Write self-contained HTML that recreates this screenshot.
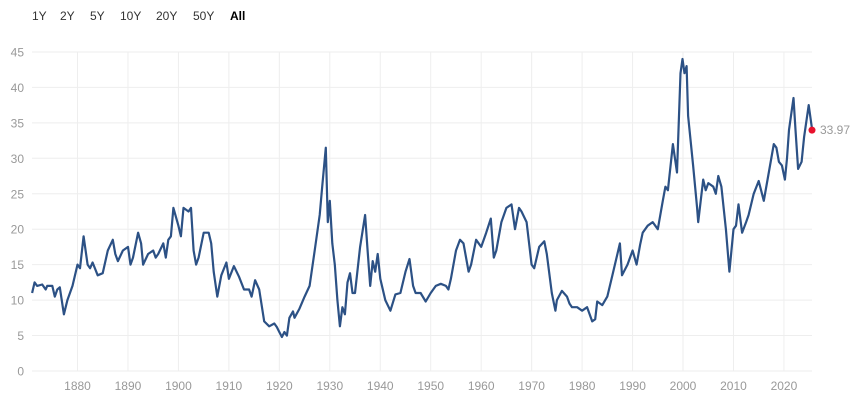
<!DOCTYPE html>
<html><head><meta charset="utf-8"><style>
body{margin:0;background:#fff;font-family:"Liberation Sans",sans-serif;}
.btn{position:absolute;top:9px;font-size:12px;color:#333;}
</style></head><body>
<div style="position:relative;width:857px;height:413px;overflow:hidden">
<span class="btn" style="left:32px">1Y</span>
<span class="btn" style="left:60px">2Y</span>
<span class="btn" style="left:90px">5Y</span>
<span class="btn" style="left:120px">10Y</span>
<span class="btn" style="left:156px">20Y</span>
<span class="btn" style="left:193px">50Y</span>
<span class="btn" style="left:230px;font-weight:bold;color:#000">All</span>
<svg id="s" width="857" height="413" style="position:absolute;left:0;top:0" font-family="Liberation Sans, sans-serif"></svg>
</div>
<script>
const s=document.getElementById('s');
const X=y=>77.5+(y-1880)*5.046, Y=v=>371-v*7.09;
let h='';
for(let v=0;v<=45;v+=5){h+=`<line x1="32" x2="812" y1="${Y(v)}" y2="${Y(v)}" stroke="#eee" stroke-width="1"/><text x="24" y="${Y(v)+4.5}" text-anchor="end" font-size="12" fill="#999">${v}</text>`;}
for(let y=1880;y<=2020;y+=10){h+=`<line x1="${X(y)}" x2="${X(y)}" y1="52" y2="371" stroke="#eee"/><text x="${X(y)}" y="390" text-anchor="middle" font-size="12" fill="#999">${y}</text>`;}
const d=[[1871,11],[1871.5,12.5],[1872,12],[1873,12.2],[1873.7,11.5],[1874,12],[1875,12],[1875.5,10.5],[1876,11.5],[1876.5,11.8],[1877.3,8],[1878,10],[1879,12],[1880,15],[1880.5,14.5],[1881.2,19],[1882,15],[1882.5,14.5],[1883,15.3],[1884,13.5],[1885,13.8],[1886,17],[1887,18.5],[1887.5,16.5],[1888,15.5],[1889,17],[1890,17.5],[1890.5,15],[1891,16],[1892,19.5],[1892.6,18],[1893,15],[1894,16.5],[1895,17],[1895.5,16],[1896,16.5],[1897,18],[1897.5,16],[1898,18.5],[1898.5,19],[1899,23],[1900,20.5],[1900.5,19],[1901,23],[1902,22.5],[1902.5,23],[1903,17],[1903.5,15],[1904,16],[1905,19.5],[1906,19.5],[1906.5,18],[1907,14],[1907.7,10.5],[1908.5,13.5],[1909.5,15.3],[1910,13],[1911,14.8],[1912,13.3],[1913,11.5],[1914,11.5],[1914.5,10.5],[1915.2,12.8],[1916,11.5],[1917,7],[1918,6.3],[1919,6.7],[1919.5,6.2],[1920,5.5],[1920.5,4.8],[1921,5.5],[1921.5,5],[1922,7.5],[1922.7,8.4],[1923,7.5],[1924,8.8],[1925,10.5],[1926,12],[1927,17],[1928,22],[1928.5,26],[1929.2,31.5],[1929.6,21],[1930,24],[1930.5,18],[1931,15],[1931.5,10],[1932,6.3],[1932.5,9],[1933,8],[1933.5,12.5],[1934,13.8],[1934.5,11],[1935,11],[1936,17.5],[1937,22],[1937.5,17],[1938,12],[1938.5,15.5],[1939,14],[1939.5,16.5],[1940,13],[1941,10],[1942,8.5],[1943,10.8],[1944,11],[1945,14],[1945.8,15.8],[1946.5,12],[1947,11],[1948,11],[1949,9.8],[1950,11],[1951,12],[1952,12.3],[1953,12],[1953.5,11.5],[1954,13],[1955,17],[1955.8,18.5],[1956.5,18],[1957.5,14],[1958,15],[1959,18.5],[1960,17.5],[1961,19.5],[1961.9,21.5],[1962.5,16],[1963,17],[1964,21],[1965,23],[1966,23.5],[1966.7,20],[1967.5,23],[1968,22.5],[1969,21],[1970,15],[1970.5,14.5],[1971.5,17.5],[1972.5,18.3],[1973,16.5],[1974,11],[1974.7,8.5],[1975,10],[1976,11.3],[1977,10.5],[1977.5,9.5],[1978,9],[1979,9],[1980,8.5],[1981,9],[1982,7],[1982.6,7.3],[1983,9.8],[1984,9.3],[1985,10.5],[1986,13.5],[1987.5,18],[1987.9,13.5],[1989,15],[1990,17],[1990.8,15],[1991.5,17.8],[1992,19.5],[1993,20.5],[1994,21],[1995,20],[1996,24],[1996.5,26],[1997,25.5],[1998,32],[1998.8,28],[1999.5,42],[1999.9,44],[2000.3,42],[2000.7,43],[2001,36],[2002,29],[2002.8,23],[2003,21],[2004,27],[2004.5,25.5],[2005,26.5],[2006,26],[2006.5,25],[2007,27.5],[2007.6,26],[2008.5,20],[2009.2,14],[2010,20],[2010.5,20.5],[2011,23.5],[2011.7,19.5],[2012.5,21],[2013,22],[2014,25],[2015,26.8],[2016,24],[2017,28],[2018,32],[2018.5,31.5],[2019,29.5],[2019.6,29],[2020.2,27],[2020.6,30],[2021,34],[2021.9,38.5],[2022.3,34],[2022.8,28.5],[2023.5,29.5],[2024,33],[2024.9,37.5],[2025.6,33.97]];
h+=`<polyline fill="none" stroke="#2c5185" stroke-width="2.2" stroke-linejoin="round" points="${d.map(p=>X(p[0]).toFixed(1)+','+Y(p[1]).toFixed(1)).join(' ')}"/>`;
h+=`<circle cx="812" cy="${Y(33.97)}" r="3.5" fill="#e8112d"/><text x="820" y="${Y(33.97)+4}" font-size="12" fill="#999">33.97</text>`;
s.innerHTML=h;
</script>
</body></html>
